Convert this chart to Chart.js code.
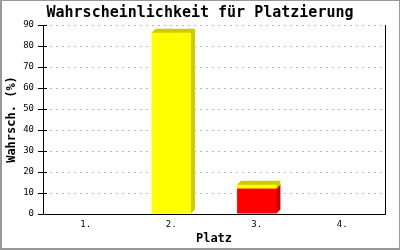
<!DOCTYPE html>
<html>
<head>
<meta charset="utf-8">
<script src="https://cdn.jsdelivr.net/npm/chart.js"></script>
<style>
  body { margin: 0; background: #fff; }
  canvas { display: block; }
</style>
</head>
<body>
<canvas id="chart" width="400" height="250"></canvas>
<script>
const places = ['1.', '2.', '3.', '4.'];
const redValues = [0, 0, 12, 0];
const yellowValues = [0, 86.3, 1.9, 0];
const yTicks = [0, 10, 20, 30, 40, 50, 60, 70, 80, 90];

const MONO = '"DejaVu Sans Mono", "Liberation Mono", monospace';
const DEPTH = 4;

// dark shades for top and side faces
const shade = { '#ff0000': '#cc0000', '#ffff00': '#cccc00' };

const boxPlugin = {
    id: 'box',
    beforeDraw(chart) {
        const ctx = chart.ctx;
        ctx.save();
        ctx.fillStyle = '#fff';
        ctx.fillRect(0, 0, chart.width, chart.height);
        ctx.fillStyle = '#999';
        ctx.fillRect(0, 0, chart.width, 1);
        ctx.fillRect(0, 0, 2, chart.height);
        ctx.fillRect(chart.width - 1, 0, 1, chart.height);
        ctx.fillRect(0, chart.height - 2, chart.width, 2);
        ctx.restore();
    },
    beforeDatasetsDraw(chart) {
        const ctx = chart.ctx;
        ctx.save();
        chart.data.datasets.forEach((ds, i) => {
            const meta = chart.getDatasetMeta(i);
            ctx.fillStyle = shade[ds.backgroundColor];
            meta.data.forEach((bar, j) => {
                if (!ds.data[j]) return;
                const p = bar.getProps(['x', 'y', 'base', 'width'], true);
                const l = p.x - p.width / 2, r = p.x + p.width / 2;
                ctx.beginPath();
                ctx.moveTo(l, p.y);
                ctx.lineTo(l + DEPTH, p.y - DEPTH);
                ctx.lineTo(r + DEPTH, p.y - DEPTH);
                ctx.lineTo(r + DEPTH, p.base - DEPTH);
                ctx.lineTo(r, p.base);
                ctx.closePath();
                ctx.fill();
            });
        });
        ctx.restore();
    },
    afterDraw(chart) {
        const ctx = chart.ctx;
        const y = chart.scales.y;
        const left = chart.chartArea.left;
        ctx.save();
        ctx.strokeStyle = '#000';
        ctx.lineWidth = 1;
        yTicks.forEach(v => {
            const py = Math.round(y.getPixelForValue(v)) + 0.5;
            ctx.beginPath();
            ctx.moveTo(left, py);
            ctx.lineTo(left + 4, py);
            ctx.stroke();
        });
        ctx.restore();
    }
};

new Chart(document.getElementById('chart'), {
    type: 'bar',
    data: {
        labels: places,
        datasets: [
            { data: redValues, backgroundColor: '#ff0000' },
            { data: yellowValues, backgroundColor: '#ffff00' }
        ]
    },
    options: {
        responsive: false,
        animation: false,
        categoryPercentage: 1,
        barPercentage: 0.46,
        layout: { padding: 0 },
        plugins: {
            legend: { display: false },
            tooltip: { enabled: false },
            title: {
                display: true,
                text: 'Wahrscheinlichkeit für Platzierung',
                color: '#000',
                font: { family: MONO, size: 15, weight: 'bold' },
                padding: { top: 4, bottom: 3 }
            }
        },
        scales: {
            x: {
                stacked: true,
                grid: { display: false, drawTicks: false },
                border: { color: '#000', width: 1 },
                ticks: { color: '#000', padding: 5, font: { family: MONO, size: 9 } },
                title: {
                    display: true,
                    text: 'Platz',
                    color: '#000',
                    font: { family: MONO, size: 12, weight: 'bold' },
                    padding: { top: 4, bottom: 4 }
                },
                afterFit(s) { s.height = 36; }
            },
            y: {
                stacked: true,
                min: 0,
                max: 90,
                afterBuildTicks(s) { s.ticks = yTicks.map(v => ({ value: v })); },
                grid: {
                    color: '#bbbbbb',
                    tickColor: '#000',
                    tickLength: 5,
                    tickBorderDash: []
                },
                border: { color: '#000', width: 1, dash: [2, 4] },
                ticks: { color: '#000', padding: 4, font: { family: MONO, size: 9 } },
                title: {
                    display: true,
                    text: 'Wahrsch. (%)',
                    color: '#000',
                    font: { family: MONO, size: 12, weight: 'bold' },
                    padding: { top: 5, bottom: 4 }
                },
                afterFit(s) { s.width = 43; }
            },
            y2: {
                position: 'right',
                min: 0,
                max: 90,
                grid: { drawOnChartArea: false, drawTicks: false },
                border: { color: '#000', width: 1 },
                ticks: { display: false },
                afterFit(s) { s.width = 15; }
            }
        }
    },
    plugins: [boxPlugin]
});
</script>
</body>
</html>
